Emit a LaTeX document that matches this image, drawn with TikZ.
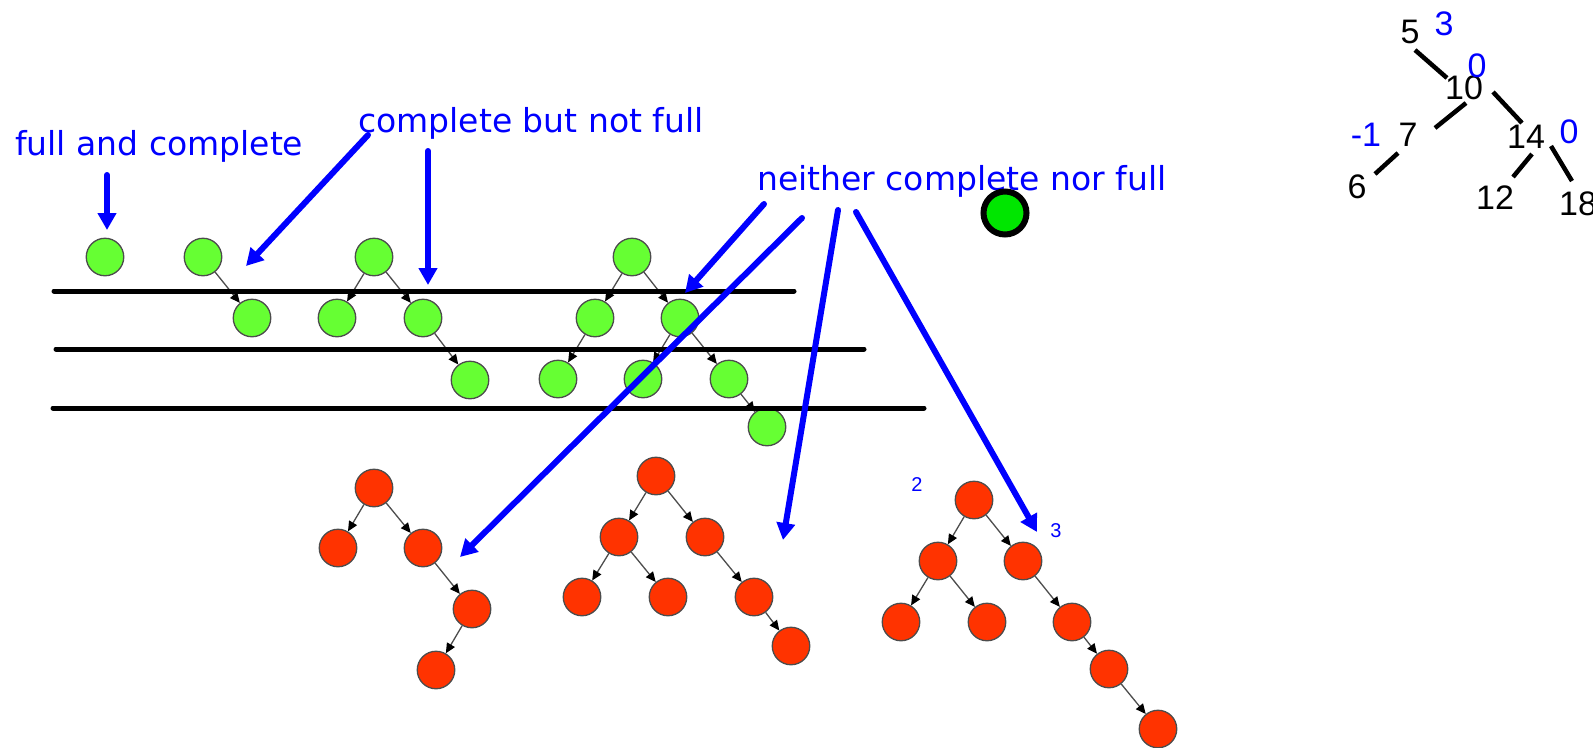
\documentclass[tikz,border=0pt]{standalone}
\usepackage{fontspec}
\usetikzlibrary{arrows.meta}
\newfontfamily\notefont{DejaVu Sans}
\newfontfamily\numfont{Liberation Sans}
\definecolor{leafgreen}{RGB}{102,255,51}
\definecolor{nodered}{RGB}{255,51,0}
\definecolor{dotgreen}{RGB}{0,230,0}

\tikzset{
  gnode/.style={circle, draw=black!70, line width=1.3pt, fill=leafgreen,
    minimum size=37.5pt, inner sep=0pt},
  rnode/.style={gnode, fill=nodered},
  tarrow/.style={draw=black!70, line width=1.3pt,
    -{Triangle[length=10pt,width=9pt,color=black]}},
  barrow/.style={blue, line width=6pt, line cap=round,
    -{Triangle[length=17pt,width=18pt]}},
  note/.style={text=blue, font=\notefont\fontsize{33}{36}\selectfont,
    inner sep=0pt, anchor=base west},
  num/.style={font=\numfont\fontsize{34}{36}\selectfont, inner sep=0pt},
  bal/.style={num, text=blue},
}

\begin{document}
\begin{tikzpicture}[x=1pt, y=-1pt]
\useasboundingbox (0,0) rectangle (1593,747);

% Green trees
\node[gnode] (a1) at (105,257) {};

\node[gnode] (b1) at (203,257) {};
\node[gnode] (b2) at (252,318) {};
\draw[tarrow] (b1) -- (b2);

\node[gnode] (c1) at (374,257) {};
\node[gnode] (c2) at (337,318) {};
\node[gnode] (c3) at (423,318) {};
\node[gnode] (c4) at (470,380) {};
\draw[tarrow] (c1) -- (c2);
\draw[tarrow] (c1) -- (c3);
\draw[tarrow] (c3) -- (c4);

\node[gnode] (d1) at (632,257) {};
\node[gnode] (d2) at (595,318) {};
\node[gnode] (d3) at (680,318) {};
\node[gnode] (d4) at (558,379) {};
\node[gnode] (d5) at (643,379) {};
\node[gnode] (d6) at (729,379) {};
\node[gnode] (d7) at (767,427) {};
\draw[tarrow] (d1) -- (d2);
\draw[tarrow] (d1) -- (d3);
\draw[tarrow] (d2) -- (d4);
\draw[tarrow] (d3) -- (d5);
\draw[tarrow] (d3) -- (d6);
\draw[tarrow] (d6) -- (d7);

% Levels
\foreach \y/\xa/\xb in {291/54/794, 349/56/864, 408/53/924}
    \draw[line width=5pt, line cap=round] (\xa,\y) -- (\xb,\y);

% Red trees
\node[rnode] (e1) at (374,488) {};
\node[rnode] (e2) at (338,548) {};
\node[rnode] (e3) at (423,548) {};
\node[rnode] (e4) at (472,609) {};
\node[rnode] (e5) at (436,670) {};
\draw[tarrow] (e1) -- (e2);
\draw[tarrow] (e1) -- (e3);
\draw[tarrow] (e3) -- (e4);
\draw[tarrow] (e4) -- (e5);

\node[rnode] (f1) at (656,476) {};
\node[rnode] (f2) at (619,537) {};
\node[rnode] (f3) at (705,537) {};
\node[rnode] (f4) at (582,597) {};
\node[rnode] (f5) at (668,597) {};
\node[rnode] (f6) at (754,597) {};
\node[rnode] (f7) at (791,646) {};
\draw[tarrow] (f1) -- (f2);
\draw[tarrow] (f1) -- (f3);
\draw[tarrow] (f2) -- (f4);
\draw[tarrow] (f2) -- (f5);
\draw[tarrow] (f3) -- (f6);
\draw[tarrow] (f6) -- (f7);

\node[rnode] (g1) at (974,500) {};
\node[rnode] (g2) at (938,561) {};
\node[rnode] (g3) at (1023,561) {};
\node[rnode] (g4) at (901,622) {};
\node[rnode] (g5) at (987,622) {};
\node[rnode] (g6) at (1072,622) {};
\node[rnode] (g7) at (1109,669) {};
\node[rnode] (g8) at (1158,729) {};
\draw[tarrow] (g1) -- (g2);
\draw[tarrow] (g1) -- (g3);
\draw[tarrow] (g2) -- (g4);
\draw[tarrow] (g2) -- (g5);
\draw[tarrow] (g3) -- (g6);
\draw[tarrow] (g6) -- (g7);
\draw[tarrow] (g7) -- (g8);

\node[bal, font=\numfont\fontsize{20}{22}\selectfont] (h2) at (917,485) {2};
\node[bal, font=\numfont\fontsize{20}{22}\selectfont] (h3) at (1056,531) {3};

% Labels
\node[note] (lfull) at (15,155) {full and complete};
\node[note] (lcomp) at (358,132) {complete but not full};
\node[note] (lnei) at (757,190) {neither complete nor full};

\node[circle, draw=black, line width=6pt, fill=dotgreen,
    minimum size=43pt, inner sep=0pt] (dot) at (1005,213) {};

% Arrow tips
\coordinate (t1) at (107,230);
\coordinate (t2) at (246,266);
\coordinate (t3) at (428,285);
\coordinate (t4) at (685,293);
\coordinate (t5) at (460,557);
\coordinate (t6) at (783,540);
\coordinate (t7) at (1037,532);

\draw[barrow] ([shift={(92,20)}]lfull.base west) -- (t1);
\draw[barrow] ([shift={(10,3)}]lcomp.base west) -- (t2);
\draw[barrow] ([shift={(70,19)}]lcomp.base west) -- (t3);
\draw[barrow] ([shift={(7,14)}]lnei.base west) -- (t4);
\draw[barrow] ([shift={(45,28)}]lnei.base west) -- (t5);
\draw[barrow] ([shift={(81,20)}]lnei.base west) -- (t6);
\draw[barrow] ([shift={(99,22)}]lnei.base west) -- (t7);

% Balance tree
\node[num] (n5) at (1410,32) {5};
\node[num] (n10) at (1464,88) {10};
\node[num] (n7) at (1408,135) {7};
\node[num] (n14) at (1526,137) {14};
\node[num] (n6) at (1357,187) {6};
\node[num] (n12) at (1495,198) {12};
\node[num] (n18) at (1578,204) {18};

\node[bal] (b5) at (1444,24) {3};
\node[bal] (b10) at (1477,66) {0};
\node[bal] (b7) at (1366,135) {-1};
\node[bal] (b14) at (1569,132) {0};

\draw[line width=4.5pt] ([shift={(5,18)}]n5.center) -- ([shift={(-17,-10)}]n10.center);
\draw[line width=4.5pt] ([shift={(2,15)}]n10.center) -- ([shift={(27,-7)}]n7.center);
\draw[line width=4.5pt] ([shift={(29,4)}]n10.center) -- ([shift={(-4,-14)}]n14.center);
\draw[line width=4.5pt] ([shift={(-10,18)}]n7.center) -- ([shift={(18,-13)}]n6.center);
\draw[line width=4.5pt] ([shift={(6,17)}]n14.center) -- ([shift={(18,-21)}]n12.center);
\draw[line width=4.5pt] ([shift={(25,9)}]n14.center) -- ([shift={(-6,-23)}]n18.center);

\end{tikzpicture}
\end{document}
